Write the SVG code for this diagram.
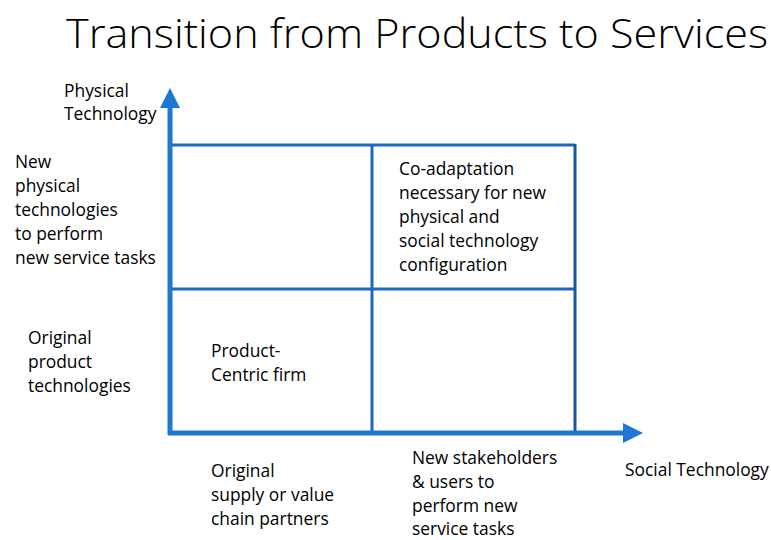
<svg xmlns="http://www.w3.org/2000/svg" width="771" height="540" viewBox="0 0 771 540">
<style>
.t{font-family:"Open Sans","Liberation Sans",sans-serif;font-size:17.4px;fill:#000}
.title{font-family:"Open Sans","Liberation Sans",sans-serif;font-size:40px;font-weight:300;fill:#000}
.axis{stroke:#1E77D2;stroke-width:5;fill:none}
.grid{stroke:#1E68BC;stroke-width:3;fill:none}
.edge{stroke:#1A5699;stroke-width:3;fill:none}
</style>
<defs>
<marker id="ah" markerWidth="4" markerHeight="4" refX="1" refY="2" orient="auto" markerUnits="strokeWidth">
<path d="M0,0 L4,2 L0,4 z" fill="#1E77D2"/>
</marker>
</defs>
<rect width="771" height="540" fill="#fff"/>
<text class="title" x="66" y="48" textLength="702" lengthAdjust="spacingAndGlyphs">Transition from Products to Services</text>
<g id="connectors">
<line class="grid" x1="170" y1="145" x2="575" y2="145"/>
<line class="grid" x1="170" y1="289" x2="575" y2="289"/>
<line class="grid" x1="372" y1="145" x2="372" y2="433"/>
<line class="edge" x1="575" y1="144" x2="575" y2="433"/>
<line class="axis" x1="170" y1="435" x2="170" y2="103" marker-end="url(#ah)"/>
<line class="axis" x1="168" y1="433" x2="628" y2="433" marker-end="url(#ah)"/>
</g>
<g id="y-axis-label"><text class="t" x="64" y="97">Physical</text><text class="t" x="64" y="120">Technology</text></g>
<g id="x-axis-label"><text class="t" x="625" y="476">Social Technology</text></g>
<g id="row-top-label"><text class="t" x="15" y="168">New</text><text class="t" x="15" y="192">physical</text><text class="t" x="15" y="216">technologies</text><text class="t" x="15" y="240">to perform</text><text class="t" x="15" y="264">new service tasks</text></g>
<g id="row-bottom-label"><text class="t" x="28" y="344">Original</text><text class="t" x="28" y="368">product</text><text class="t" x="28" y="392">technologies</text></g>
<g id="col-left-label"><text class="t" x="211" y="477">Original</text><text class="t" x="211" y="501">supply or value</text><text class="t" x="211" y="525">chain partners</text></g>
<g id="col-right-label"><text class="t" x="412" y="464">New stakeholders</text><text class="t" x="412" y="488">&amp; users  to</text><text class="t" x="412" y="512">perform new</text><text class="t" x="412" y="535">service tasks</text></g>
<g id="cell-product"><text class="t" x="211" y="357">Product-</text><text class="t" x="211" y="381">Centric firm</text></g>
<g id="cell-coadapt"><text class="t" x="399" y="175">Co-adaptation</text><text class="t" x="399" y="199">necessary for new</text><text class="t" x="399" y="223">physical and</text><text class="t" x="399" y="247">social technology</text><text class="t" x="399" y="271">configuration</text></g>
</svg>
